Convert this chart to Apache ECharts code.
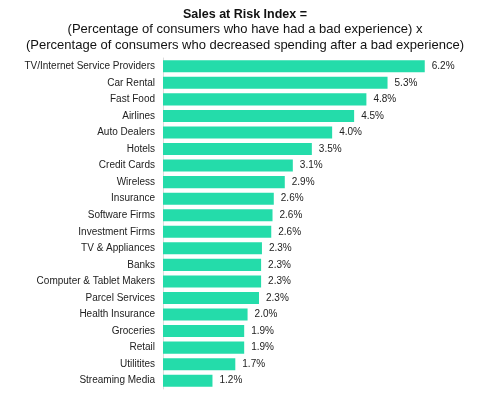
<!DOCTYPE html>
<html><head><meta charset="utf-8">
<script src="https://cdn.jsdelivr.net/npm/echarts@6/dist/echarts.min.js"></script>
<style>html,body{margin:0;padding:0;background:#fff}#c{width:490px;height:395px}</style>
</head><body><div id="c"></div>
<script>
const categories = ["TV/Internet Service Providers","Car Rental","Fast Food","Airlines","Auto Dealers","Hotels","Credit Cards","Wireless","Insurance","Software Firms","Investment Firms","TV & Appliances","Banks","Computer & Tablet Makers","Parcel Services","Health Insurance","Groceries","Retail","Utilitites","Streaming Media"];
const values = [6.19,5.31,4.81,4.52,4.00,3.52,3.07,2.88,2.62,2.59,2.56,2.34,2.32,2.32,2.27,2.00,1.92,1.92,1.71,1.17];
const titleText = "Sales at Risk Index =";
const subtitleText = "(Percentage of consumers who have had a bad experience) x\n(Percentage of consumers who decreased spending after a bad experience)";

const chart = echarts.init(document.getElementById('c'));
chart.setOption({
  animation: false,
  title: {
    text: titleText,
    subtext: subtitleText,
    left: 'center', top: 3, itemGap: 0,
    textStyle: {fontFamily: 'Liberation Sans', fontSize: 12.5, fontWeight: 'bold', color: '#111'},
    subtextStyle: {fontFamily: 'Liberation Sans', fontSize: 13, color: '#111', lineHeight: 16, align: 'center'}
  },
  grid: {left: 163, right: 31, top: 58, bottom: 6, containLabel: false},
  xAxis: {type: 'value', min: 0, max: 7, show: false},
  yAxis: {
    type: 'category', data: categories, inverse: true,
    axisLine: {show: true, lineStyle: {color: '#ddd', width: 1}},
    axisTick: {show: false},
    axisLabel: {fontFamily: 'Liberation Sans', fontSize: 10, color: '#222', margin: 8}
  },
  series: [{
    type: 'bar', data: values, barCategoryGap: '27%',
    itemStyle: {color: '#24dcaa'},
    label: {show: true, position: 'right', distance: 7, fontFamily: 'Liberation Sans', fontSize: 10, color: '#222',
      formatter: p => p.value.toFixed(1) + '%'}
  }]
});
</script></body></html>
